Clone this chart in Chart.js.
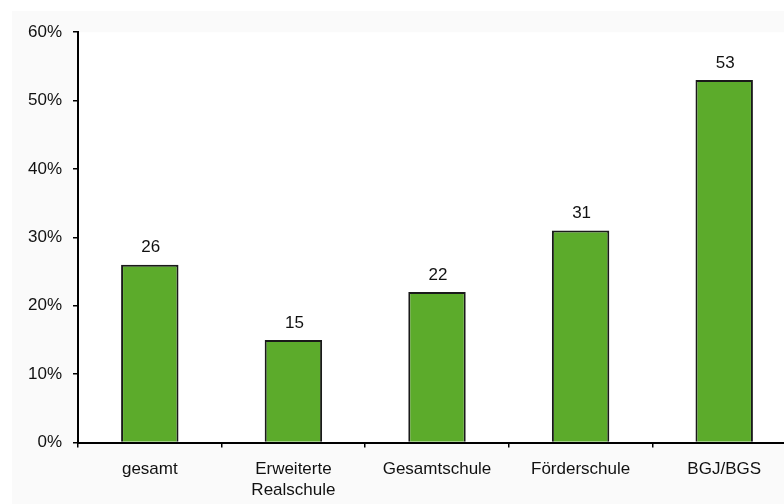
<!DOCTYPE html>
<html>
<head>
<meta charset="utf-8">
<script src="https://cdn.jsdelivr.net/npm/chart.js@4/dist/chart.umd.min.js"></script>
<style>
  html, body { margin: 0; padding: 0; background: #fff; overflow: hidden; }
  #panel {
    position: absolute; left: 12px; top: 11px;
    width: 790px; height: 493px; background: #fafafa;
  }
  #chart { display: block; }
</style>
</head>
<body>
<div id="panel"><canvas id="chart" width="790" height="493"></canvas></div>
<script>
// Data
let categories = ['gesamt', ['Erweiterte', 'Realschule'], 'Gesamtschule', 'Förderschule', 'BGJ/BGS'];
let shares = [26, 15, 22, 31, 53];
let yTicks = [0, 10, 20, 30, 40, 50, 60];

let font = { family: '"Liberation Sans", Arial, sans-serif', size: 17 };

// White plot background behind the bars
let plotBackground = {
  id: 'plotBackground',
  beforeDraw(chart) {
    let a = chart.chartArea;
    let c = chart.ctx;
    c.save();
    c.fillStyle = '#ffffff';
    c.fillRect(a.left, a.top, a.right - a.left, a.bottom - a.top);
    c.restore();
  }
};

// Value above each bar
let valueLabels = {
  id: 'valueLabels',
  afterDatasetsDraw(chart) {
    let c = chart.ctx;
    let meta = chart.getDatasetMeta(0);
    c.save();
    c.font = font.size + 'px ' + font.family;
    c.fillStyle = '#111';
    c.textAlign = 'center';
    c.textBaseline = 'middle';
    meta.data.forEach((bar, i) => {
      c.fillText(String(shares[i]), bar.x + 1, bar.y - 17);
    });
    c.restore();
  }
};

new Chart(document.getElementById('chart'), {
  type: 'bar',
  data: {
    labels: categories,
    datasets: [{
      data: shares,
      backgroundColor: '#5cab2b',
      borderColor: '#1a1a1a',
      borderWidth: 2,
      borderSkipped: 'bottom',
      barPercentage: 0.4,
      categoryPercentage: 1
    }]
  },
  options: {
    responsive: false,
    animation: false,
    layout: { padding: { top: 18.5, right: 6, left: 0, bottom: 0 } },
    plugins: { legend: { display: false }, tooltip: { enabled: false } },
    scales: {
      x: {
        offset: true,
        grid: { offset: true, drawOnChartArea: false, color: '#000', lineWidth: 1.5, tickLength: 5 },
        border: { color: '#000', width: 2 },
        ticks: { font: font, color: '#111', padding: 12, maxRotation: 0, autoSkip: false },
        afterFit(scale) { scale.height = 61.5; }
      },
      y: {
        min: 0,
        max: 60,
        afterBuildTicks(scale) { scale.ticks = yTicks.map(v => ({ value: v })); },
        grid: { drawOnChartArea: false, color: '#000', lineWidth: 1.5, tickLength: 5 },
        border: { color: '#000', width: 2 },
        ticks: { font: font, color: '#111', padding: 11, callback: v => v + '%' },
        afterFit(scale) { scale.width = 66; }
      }
    }
  },
  plugins: [plotBackground, valueLabels]
});
</script>
</body>
</html>
